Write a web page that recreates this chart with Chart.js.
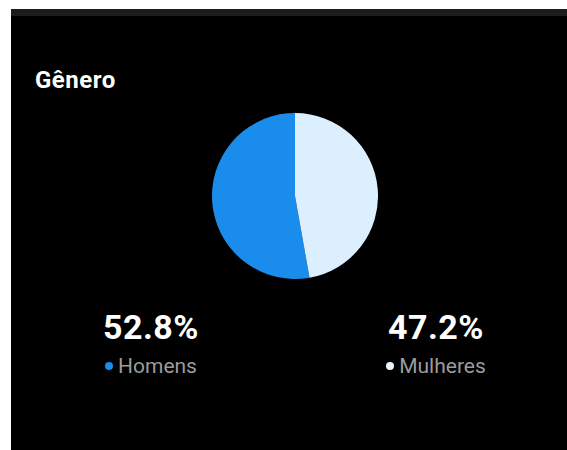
<!DOCTYPE html>
<html lang="pt">
  <head>
    <meta charset="UTF-8" />
    <title>Gênero</title>
    <script src="https://cdn.jsdelivr.net/npm/chart.js@4"></script>
  </head>
  <style>
    * {
      margin: 0;
      padding: 0;
      box-sizing: border-box;
    }
    html,
    body {
      width: 100%;
      height: 100%;
      background: #fff;
      font-family: Roboto, "Noto Sans", sans-serif;
      overflow: hidden;
    }
    .card {
      position: fixed;
      left: 11px;
      top: 9px;
      right: 0;
      bottom: -10px;
      background: #000;
      border-top: 7px solid #1c1c1c;
    }
    .title {
      position: absolute;
      left: 24px;
      top: 50px;
      color: #fff;
      font-size: 24px;
      font-weight: 700;
      letter-spacing: 0.5px;
    }
    .pie {
      position: absolute;
      left: 201px;
      top: 97px;
      width: 166px;
      height: 166px;
    }
    .stat {
      position: absolute;
      top: 291px;
      width: 160px;
      text-align: center;
    }
    .stat .pct {
      color: #fff;
      font-size: 34px;
      font-weight: 700;
      letter-spacing: 0.5px;
    }
    .stat .lbl {
      color: #9c9c9c;
      font-size: 21px;
      margin-top: 7px;
    }
    .stat .dot {
      display: inline-block;
      width: 8px;
      height: 8px;
      border-radius: 50%;
      margin-right: 5px;
      vertical-align: 3px;
    }
  </style>
  <body>
    <div class="card">
      <div class="title">Gênero</div>
      <div class="pie"><canvas id="genero"></canvas></div>
      <div id="stats"></div>
    </div>
    <script>
      const categorias = ["Homens", "Mulheres"];
      const valores = [52.8, 47.2];
      const cores = ["#1a8cec", "#dcefff"];
      const pontos = ["#1a8cec", "#e8f4ff"];
      const statLeft = [60, 345];

      let stats = document.querySelector("#stats");
      categorias.forEach((c, i) => {
        stats.innerHTML += `<div class="stat" style="left:${statLeft[i]}px">
          <div class="pct">${valores[i].toFixed(1)}%</div>
          <div class="lbl"><span class="dot" style="background:${pontos[i]}"></span>${c}</div>
        </div>`;
      });

      let total = valores.reduce((a, b) => a + b, 0);
      new Chart(document.querySelector("#genero"), {
        type: "pie",
        data: {
          labels: categorias,
          datasets: [
            {
              data: valores,
              backgroundColor: cores,
              borderWidth: 0,
            },
          ],
        },
        options: {
          responsive: true,
          maintainAspectRatio: false,
          animation: false,
          rotation: -(valores[0] / total) * 360,
          plugins: {
            legend: { display: false },
            tooltip: { enabled: false },
          },
        },
      });
    </script>
  </body>
</html>
